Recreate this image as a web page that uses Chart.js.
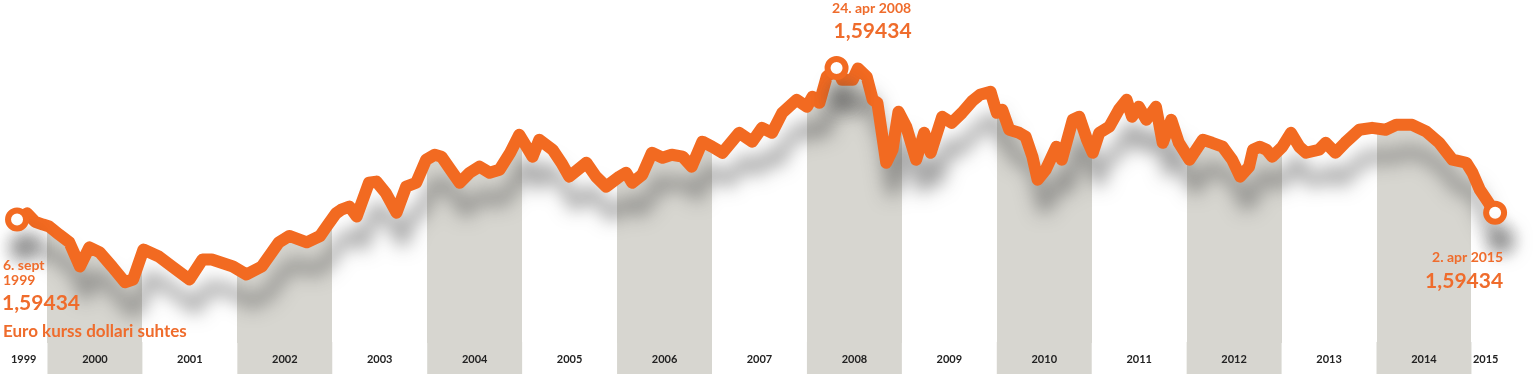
<!DOCTYPE html>
<html>
<head>
<meta charset="utf-8">
<title>Euro kurss dollari suhtes</title>
<script src="https://cdn.jsdelivr.net/npm/chart.js@4.4.1/dist/chart.umd.min.js"></script>
<style>
  html, body { margin: 0; padding: 0; background: #fff; }
  #wrap { position: relative; width: 1536px; height: 374px; }
</style>
</head>
<body>
<div id="wrap"><canvas id="rate-chart"></canvas></div>
<script>
// EUR/USD
const dates = [
  '1999-09-06', '1999-10-15', '1999-11-15', '1999-12-15',
  '2000-01-08', '2000-02-15', '2000-03-25', '2000-05-05', '2000-06-10', '2000-07-20', '2000-09-05', '2000-10-25', '2000-11-25',
  '2001-01-05', '2001-03-05', '2001-04-25', '2001-07-01', '2001-08-20', '2001-09-25', '2001-12-15',
  '2002-02-05', '2002-04-05', '2002-06-10', '2002-07-20', '2002-09-25', '2002-11-15', '2002-12-10',
  '2003-01-15', '2003-02-05', '2003-03-08', '2003-04-05', '2003-05-22', '2003-06-20', '2003-07-25', '2003-09-05', '2003-10-12', '2003-11-20', '2003-12-28',
  '2004-01-30', '2004-02-25', '2004-04-08', '2004-05-05', '2004-06-12', '2004-07-20', '2004-08-28', '2004-10-05', '2004-11-15', '2004-12-20',
  '2005-02-10', '2005-03-08', '2005-04-28', '2005-06-01', '2005-07-01', '2005-09-05', '2005-10-12', '2005-11-20',
  '2006-01-10', '2006-02-05', '2006-02-28', '2006-04-08', '2006-05-15', '2006-06-25', '2006-07-30', '2006-09-10', '2006-10-15', '2006-11-25',
  '2007-01-01', '2007-02-10', '2007-04-15', '2007-06-05', '2007-07-12', '2007-08-20', '2007-09-28', '2007-11-22',
  '2008-01-01', '2008-01-22', '2008-02-18', '2008-03-17', '2008-04-24', '2008-05-15', '2008-06-25', '2008-07-15', '2008-08-18', '2008-09-10', '2008-09-28', '2008-11-01', '2008-11-25', '2008-12-18',
  '2009-01-18', '2009-02-25', '2009-03-28', '2009-04-22', '2009-06-05', '2009-07-12', '2009-08-20', '2009-09-28', '2009-10-28', '2009-12-08',
  '2010-01-01', '2010-01-22', '2010-02-18', '2010-03-28', '2010-04-22', '2010-05-18', '2010-06-07', '2010-07-08', '2010-08-18', '2010-09-08', '2010-10-20', '2010-11-14', '2010-12-14',
  '2011-01-05', '2011-01-30', '2011-03-10', '2011-04-15', '2011-05-15', '2011-06-05', '2011-07-01', '2011-07-30', '2011-09-05', '2011-10-01', '2011-11-03', '2011-12-02',
  '2012-01-12', '2012-03-03', '2012-04-08', '2012-05-18', '2012-06-24', '2012-07-25', '2012-08-28', '2012-09-12', '2012-10-08', '2012-11-03', '2012-11-25',
  '2013-01-04', '2013-02-06', '2013-03-10', '2013-04-05', '2013-05-25', '2013-06-20', '2013-07-27', '2013-09-02', '2013-10-27', '2013-12-15',
  '2014-02-05', '2014-03-18', '2014-05-18', '2014-07-12', '2014-08-30', '2014-10-20', '2014-12-12',
  '2015-01-05', '2015-02-02', '2015-02-28', '2015-04-02'
];

const rates = [
  1.053, 1.075, 1.045, 1.035,
  1.028, 0.999, 0.971, 0.884, 0.953, 0.935, 0.884, 0.827, 0.837,
  0.945, 0.920, 0.884, 0.837, 0.909, 0.909, 0.884,
  0.855, 0.884, 0.971, 0.994, 0.971, 0.994, 1.028,
  1.075, 1.089, 1.100, 1.064, 1.186, 1.190, 1.150, 1.078, 1.172, 1.186, 1.269,
  1.287, 1.280, 1.222, 1.186, 1.222, 1.244, 1.222, 1.233, 1.294, 1.359,
  1.280, 1.341, 1.305, 1.258, 1.208, 1.258, 1.208, 1.172,
  1.208, 1.222, 1.186, 1.215, 1.294, 1.276, 1.287, 1.280, 1.244, 1.334,
  1.316, 1.294, 1.366, 1.334, 1.384, 1.366, 1.438, 1.485,
  1.460, 1.496, 1.474, 1.568, 1.600, 1.557, 1.557, 1.598, 1.568, 1.485, 1.474, 1.258, 1.305, 1.442,
  1.388, 1.269, 1.366, 1.294, 1.424, 1.402, 1.438, 1.480, 1.503, 1.514,
  1.438, 1.449, 1.377, 1.366, 1.352, 1.280, 1.197, 1.233, 1.316, 1.269, 1.413, 1.424, 1.341,
  1.294, 1.366, 1.388, 1.449, 1.485, 1.424, 1.460, 1.413, 1.460, 1.330, 1.413, 1.330,
  1.269, 1.341, 1.330, 1.316, 1.269, 1.208, 1.244, 1.305, 1.316, 1.305, 1.280,
  1.316, 1.366, 1.316, 1.294, 1.305, 1.330, 1.294, 1.330, 1.377, 1.384,
  1.377, 1.395, 1.395, 1.370, 1.330, 1.269, 1.258,
  1.222, 1.161, 1.125, 1.078
];

const yearLabels = ['1999', '2000', '2001', '2002', '2003', '2004', '2005', '2006',
  '2007', '2008', '2009', '2010', '2011', '2012', '2013', '2014', '2015'];

const title = 'Euro kurss dollari suhtes';
const startNote = ['6. sept', '1999'];
const peakNote = '24. apr 2008';
const endNote = '2. apr 2015';
const shownValue = '1,59434';

const ORANGE = '#f26a21';
const TEXT_ORANGE = '#ef6c2c';
const BAND = '#d7d6d0';

function toYear(s) {
  const [y, m, d] = s.split('-').map(Number);
  const start = Date.UTC(y, 0, 1);
  const days = (Date.UTC(y, m - 1, d) - start) / 86400000;
  return y + days / 365;
}

const points = dates.map((d, i) => ({ x: toYear(d), y: rates[i] }));
const lastIdx = points.length - 1;
const peakIdx = rates.indexOf(Math.max(...rates));
const marked = [0, peakIdx, lastIdx];
const firstYear = Number(yearLabels[0]);

// every second year (2000, 2002, ...) gets a grey band
function isGrey(year) { return (year - firstYear) % 2 === 1; }

function bandFill(context) {
  const chart = context.chart;
  const area = chart.chartArea;
  if (!area) return BAND;
  const xs = chart.scales.x;
  const w = area.right - area.left;
  const g = chart.ctx.createLinearGradient(area.left, 0, area.right, 0);
  const clamp = v => Math.min(1, Math.max(0, v));
  g.addColorStop(0, 'rgba(215,214,208,0)');
  yearLabels.forEach(label => {
    const yr = Number(label);
    if (!isGrey(yr)) return;
    const a = clamp((xs.getPixelForValue(yr) - area.left) / w);
    const b = clamp((xs.getPixelForValue(yr + 1) - area.left) / w);
    g.addColorStop(a, 'rgba(215,214,208,0)');
    g.addColorStop(a, BAND);
    g.addColorStop(b, BAND);
    g.addColorStop(b, 'rgba(215,214,208,0)');
  });
  g.addColorStop(1, 'rgba(215,214,208,0)');
  return g;
}

// grey bands continue under the year labels
const bandFoot = {
  id: 'bandFoot',
  beforeDraw(chart) {
    const { ctx, chartArea, scales } = chart;
    ctx.save();
    ctx.fillStyle = BAND;
    yearLabels.forEach(label => {
      const yr = Number(label);
      if (!isGrey(yr)) return;
      const x1 = scales.x.getPixelForValue(yr);
      const x2 = scales.x.getPixelForValue(yr + 1);
      ctx.fillRect(x1, chartArea.bottom - 1, x2 - x1, chart.height - chartArea.bottom + 1);
    });
    ctx.restore();
  }
};

const lineShadow = {
  id: 'lineShadow',
  beforeDatasetDraw(chart, args) {
    if (args.index !== 0) return;
    const ctx = chart.ctx;
    ctx.save();
    ctx.shadowColor = 'rgba(70,70,70,0.5)';
    ctx.shadowBlur = 18;
    ctx.shadowOffsetX = 6;
    ctx.shadowOffsetY = 28;
  },
  afterDatasetDraw(chart, args) {
    if (args.index !== 0) return;
    chart.ctx.restore();
  }
};

const notes = {
  id: 'notes',
  afterDraw(chart) {
    const ctx = chart.ctx;
    const meta = chart.getDatasetMeta(0);
    const s = meta.data[0], p = meta.data[peakIdx], e = meta.data[lastIdx];
    ctx.save();
    ctx.fillStyle = TEXT_ORANGE;
    ctx.textBaseline = 'alphabetic';

    ctx.textAlign = 'left';
    ctx.font = 'bold 14px Lato';
    ctx.fillText(startNote[0], 3, s.y + 50);
    ctx.fillText(startNote[1], 3, s.y + 65);
    ctx.font = 'bold 21px Lato';
    ctx.fillText(shownValue, 2, s.y + 90);
    ctx.font = 'bold 17px Lato';
    ctx.fillText(title, 3, s.y + 117);

    ctx.textAlign = 'center';
    ctx.font = 'bold 14px Lato';
    ctx.fillText(peakNote, p.x + 35, p.y - 55);
    ctx.font = 'bold 21px Lato';
    ctx.fillText(shownValue, p.x + 36, p.y - 30);

    ctx.textAlign = 'right';
    ctx.font = 'bold 14px Lato';
    ctx.fillText(endNote, e.x + 8, e.y + 49);
    ctx.font = 'bold 21px Lato';
    ctx.fillText(shownValue, e.x + 8, e.y + 75);
    ctx.restore();
  }
};

const ctx = document.getElementById('rate-chart').getContext('2d');
new Chart(ctx, {
  type: 'line',
  data: {
    datasets: [{
      data: points,
      borderColor: ORANGE,
      borderWidth: 12,
      borderJoinStyle: 'round',
      borderCapStyle: 'round',
      tension: 0,
      fill: false,
      pointRadius: c => marked.includes(c.dataIndex) ? 9 : 0,
      pointBackgroundColor: '#fff',
      pointBorderColor: ORANGE,
      pointBorderWidth: 6,
      pointHoverRadius: 0
    }, {
      data: points,
      borderWidth: 0,
      pointRadius: 0,
      fill: 'start',
      backgroundColor: bandFill
    }]
  },
  options: {
    responsive: true,
    maintainAspectRatio: false,
    animation: false,
    events: [],
    layout: { autoPadding: false, padding: { left: 0, right: 0, top: 0, bottom: 7 } },
    plugins: {
      legend: { display: false },
      tooltip: { enabled: false }
    },
    scales: {
      x: {
        type: 'linear',
        min: 1999.5,
        max: 2015.68,
        grid: { display: false, drawTicks: false },
        border: { display: false },
        afterBuildTicks: scale => {
          const end = points[lastIdx].x + 0.05;
          scale.ticks = yearLabels.map(l => {
            const yr = Number(l);
            const lo = Math.max(yr, scale.min);
            const hi = Math.min(yr + 1, end);
            return { value: (lo + hi) / 2 };
          });
        },
        afterFit: scale => {
          scale.paddingLeft = 0;
          scale.paddingRight = 0;
          scale.height = 24;
        },
        ticks: {
          autoSkip: false,
          maxRotation: 0,
          padding: 10,
          color: '#222',
          font: { family: 'Lato', size: 11, weight: 'bold' },
          callback: (v, i) => yearLabels[i]
        }
      },
      y: {
        display: false,
        min: 0.608,
        max: 1.845
      }
    }
  },
  plugins: [bandFoot, lineShadow, notes]
});
</script>
</body>
</html>
